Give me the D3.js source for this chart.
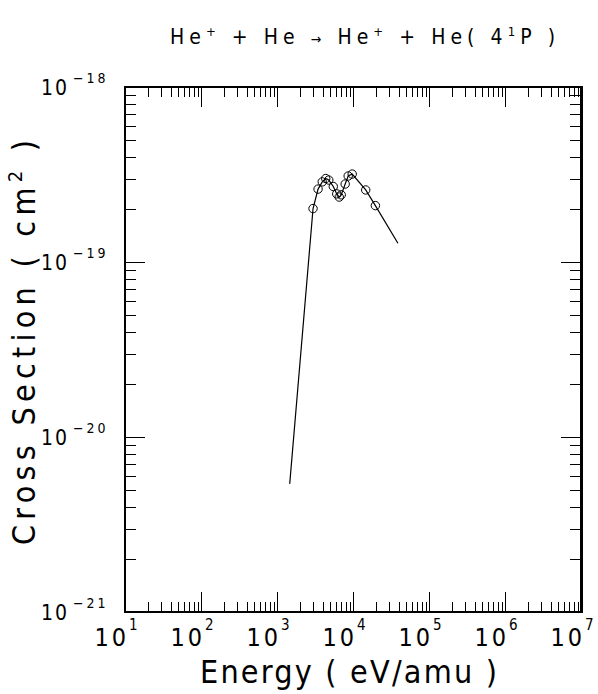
<!DOCTYPE html>
<html>
<head>
<meta charset="utf-8">
<script src="https://cdn.jsdelivr.net/npm/d3@7"></script>
<style>
  body { margin: 0; background: #fff; }
  svg { display: block; }
  text { font-family: "DejaVu Sans Condensed", "DejaVu Sans", sans-serif; fill: #000; }
</style>
</head>
<body>
<svg id="chart"></svg>
<script>
// measured points (eV/amu, cm^2)
const energy = [2980, 3470, 3940, 4380, 4800, 5500, 6110, 6590, 7000, 7890, 8640, 9760, 14700, 19700];
const sigma = [2.02e-19, 2.61e-19, 2.87e-19, 3.00e-19, 2.94e-19, 2.70e-19, 2.45e-19, 2.35e-19, 2.42e-19, 2.79e-19, 3.10e-19, 3.18e-19, 2.58e-19, 2.10e-19];

// fitted curve
const fitEnergy = [1470, 2980, 3470, 3940, 4380, 4800, 5500, 6110, 6590, 7000, 7890, 8640, 9760, 14700, 19700, 39000];
const fitSigma = [5.4e-21, 2.02e-19, 2.61e-19, 2.87e-19, 3.00e-19, 2.94e-19, 2.70e-19, 2.45e-19, 2.35e-19, 2.42e-19, 2.79e-19, 3.10e-19, 3.18e-19, 2.58e-19, 2.10e-19, 1.28e-19];

const xExp = [1, 2, 3, 4, 5, 6, 7];
const yExp = [-18, -19, -20, -21];

const width = 598, height = 694;
const mLeft = 125, mRight = 581, mTop = 87, mBottom = 612;

const svg = d3.select("#chart")
    .attr("width", width)
    .attr("height", height);

const x = d3.scaleLog().domain([1e1, 1e7]).range([mLeft, mRight]);
const y = d3.scaleLog().domain([1e-21, 1e-18]).range([mBottom, mTop]);

const isMajor = v => Math.abs(Math.log10(v) - Math.round(Math.log10(v))) < 1e-6;

// ticks, all pointing inward
const ticks = svg.append("g").attr("stroke", "#000").attr("stroke-width", 1);
x.ticks().forEach(t => {
    const len = isMajor(t) ? 20 : 10;
    const px = Math.round(x(t)) + 0.5;
    ticks.append("line").attr("x1", px).attr("x2", px).attr("y1", mBottom).attr("y2", mBottom - len);
    ticks.append("line").attr("x1", px).attr("x2", px).attr("y1", mTop).attr("y2", mTop + len);
});
y.ticks().forEach(t => {
    const len = isMajor(t) ? 20 : 11;
    const py = Math.round(y(t)) + 0.5;
    ticks.append("line").attr("x1", mLeft).attr("x2", mLeft + len).attr("y1", py).attr("y2", py);
    ticks.append("line").attr("x1", mRight).attr("x2", mRight - len).attr("y1", py).attr("y2", py);
});

// frame
svg.append("rect")
    .attr("x", mLeft).attr("y", mTop)
    .attr("width", mRight - mLeft).attr("height", mBottom - mTop)
    .attr("fill", "none").attr("stroke", "#000").attr("stroke-width", 2);
svg.append("line")
    .attr("x1", mRight + 1).attr("x2", mRight + 1).attr("y1", mTop - 1).attr("y2", mBottom + 1)
    .attr("stroke", "#000").attr("stroke-width", 2);

// tick labels
xExp.forEach(e => {
    const px = x(Math.pow(10, e));
    svg.append("text").attr("x", px + 4).attr("y", 646)
        .attr("text-anchor", "end").attr("font-size", 25)
        .attr("letter-spacing", 3).text("10");
    svg.append("text").attr("x", px + 4).attr("y", 630)
        .attr("font-size", 15).text(e);
});
yExp.forEach(e => {
    const py = y(Math.pow(10, e));
    svg.append("text").attr("x", 69).attr("y", py + 8)
        .attr("text-anchor", "end").attr("font-size", 21)
        .attr("letter-spacing", 2).text("10");
    svg.append("text").attr("x", 73).attr("y", py - 4)
        .attr("font-size", 14).attr("letter-spacing", 3).text("\u2212" + Math.abs(e));
});

// curve
const line = d3.line()
    .x(d => x(d[0]))
    .y(d => y(d[1]));
svg.append("path")
    .datum(d3.zip(fitEnergy, fitSigma))
    .attr("d", line)
    .attr("fill", "none").attr("stroke", "#000").attr("stroke-width", 1.2);

// points
svg.append("g").selectAll("circle")
    .data(d3.zip(energy, sigma))
    .join("circle")
    .attr("cx", d => x(d[0]))
    .attr("cy", d => y(d[1]))
    .attr("r", 4.2)
    .attr("fill", "none").attr("stroke", "#000").attr("stroke-width", 1);

// title
const title = svg.append("text")
    .attr("x", 170).attr("y", 44)
    .attr("font-size", 21)
    .attr("textLength", 385).attr("lengthAdjust", "spacing");
title.append("tspan").text("He");
title.append("tspan").attr("dy", -8).attr("font-size", 13).text("+");
title.append("tspan").attr("dy", 8).text(" + He ");
title.append("tspan").attr("font-size", 14).text("\u2192");
title.append("tspan").text(" He");
title.append("tspan").attr("dy", -8).attr("font-size", 13).text("+");
title.append("tspan").attr("dy", 8).text(" + He( 4");
title.append("tspan").attr("dy", -8).attr("font-size", 13).text("1");
title.append("tspan").attr("dy", 8).text("P )");

// axis titles
svg.append("text")
    .attr("x", 200).attr("y", 683)
    .attr("font-size", 32)
    .attr("textLength", 297).attr("lengthAdjust", "spacing")
    .text("Energy ( eV/amu )");

const yt = svg.append("text")
    .attr("transform", "translate(35,545) rotate(-90)")
    .attr("font-size", 32)
    .attr("textLength", 405).attr("lengthAdjust", "spacing");
yt.append("tspan").text("Cross Section ( cm");
yt.append("tspan").attr("dy", -13).attr("font-size", 20).text("2");
yt.append("tspan").attr("dy", 13).text(" )");
</script>
</body>
</html>
